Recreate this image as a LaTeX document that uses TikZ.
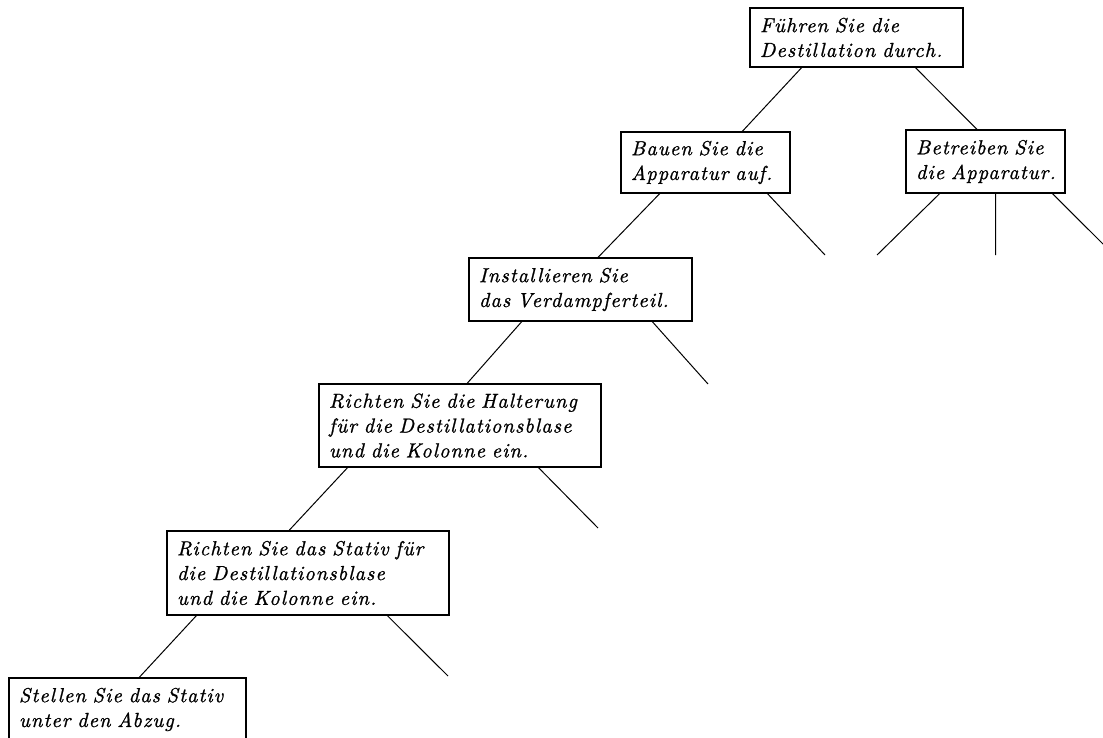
\documentclass[tikz,border=0pt]{standalone}
\usepackage{fontspec}
\newfontfamily\treefont{lmroman10-italic}[Extension=.otf, LetterSpace=5.5, FakeBold=1.0]
\usetikzlibrary{calc}
\begin{document}
\begin{tikzpicture}[x=1pt,y=-1pt,
  treebox/.style={draw, line width=1.1pt, align=left, inner xsep=10pt, inner ysep=0pt,
    font=\treefont\fontsize{20.3}{24.8}\selectfont},
  edge/.style={line width=1pt}]
\useasboundingbox (0,0) rectangle (1103,737);
\clip (0,0) rectangle (1103,737);
\node[treebox, text width=193pt, minimum height=59pt] (b1) at (856.5,37.5) {Führen Sie die\\Destillation durch.};
\node[treebox, text width=139pt, minimum height=63pt] (b2) at (985.5,161.5) {Betreiben Sie\\die Apparatur.};
\node[treebox, text width=149pt, minimum height=61pt] (b3) at (705.5,162.5) {Bauen Sie die\\Apparatur auf.};
\node[treebox, text width=203pt, minimum height=63pt] (b4) at (580.5,289.5) {Installieren Sie\\das Verdampferteil.};
\node[treebox, text width=262pt, minimum height=83pt] (b5) at (460,425.5) {Richten Sie die Halterung\\für die Destillationsblase\\und die Kolonne ein.};
\node[treebox, text width=262pt, minimum height=84pt] (b6) at (308,573) {Richten Sie das Stativ für\\die Destillationsblase\\und die Kolonne ein.};
\node[treebox, text width=217pt, minimum height=63pt] (b7) at (127.5,709.5) {Stellen Sie das Stativ\\unter den Abzug.};
\coordinate (f3) at (825,255);
\coordinate (f2a) at (877,255);
\coordinate (f2b) at (995.5,255);
\coordinate (f2c) at (1112,253);
\coordinate (f4) at (708,384);
\coordinate (f5) at (598,528);
\coordinate (f6) at (448,676);
\draw[edge] ($(b1.south west)!0.244!(b1.south east)$) -- ($(b3.north west)!0.716!(b3.north east)$);
\draw[edge] ($(b1.south west)!0.775!(b1.south east)$) -- ($(b2.north west)!0.447!(b2.north east)$);
\draw[edge] ($(b3.south west)!0.864!(b3.south east)$) -- (f3);
\draw[edge] ($(b2.south west)!0.214!(b2.south east)$) -- (f2a);
\draw[edge] ($(b2.south west)!0.5629!(b2.south east)$) -- (f2b);
\draw[edge] ($(b2.south west)!0.918!(b2.south east)$) -- (f2c);
\draw[edge] ($(b3.south west)!0.231!(b3.south east)$) -- ($(b4.north west)!0.578!(b4.north east)$);
\draw[edge] ($(b4.south west)!0.82!(b4.south east)$) -- (f4);
\draw[edge] ($(b4.south west)!0.238!(b4.south east)$) -- ($(b5.north west)!0.525!(b5.north east)$);
\draw[edge] ($(b5.south west)!0.777!(b5.south east)$) -- (f5);
\draw[edge] ($(b5.south west)!0.103!(b5.south east)$) -- ($(b6.north west)!0.433!(b6.north east)$);
\draw[edge] ($(b6.south west)!0.78!(b6.south east)$) -- (f6);
\draw[edge] ($(b6.south west)!0.106!(b6.south east)$) -- ($(b7.north west)!0.549!(b7.north east)$);
\end{tikzpicture}
\end{document}
